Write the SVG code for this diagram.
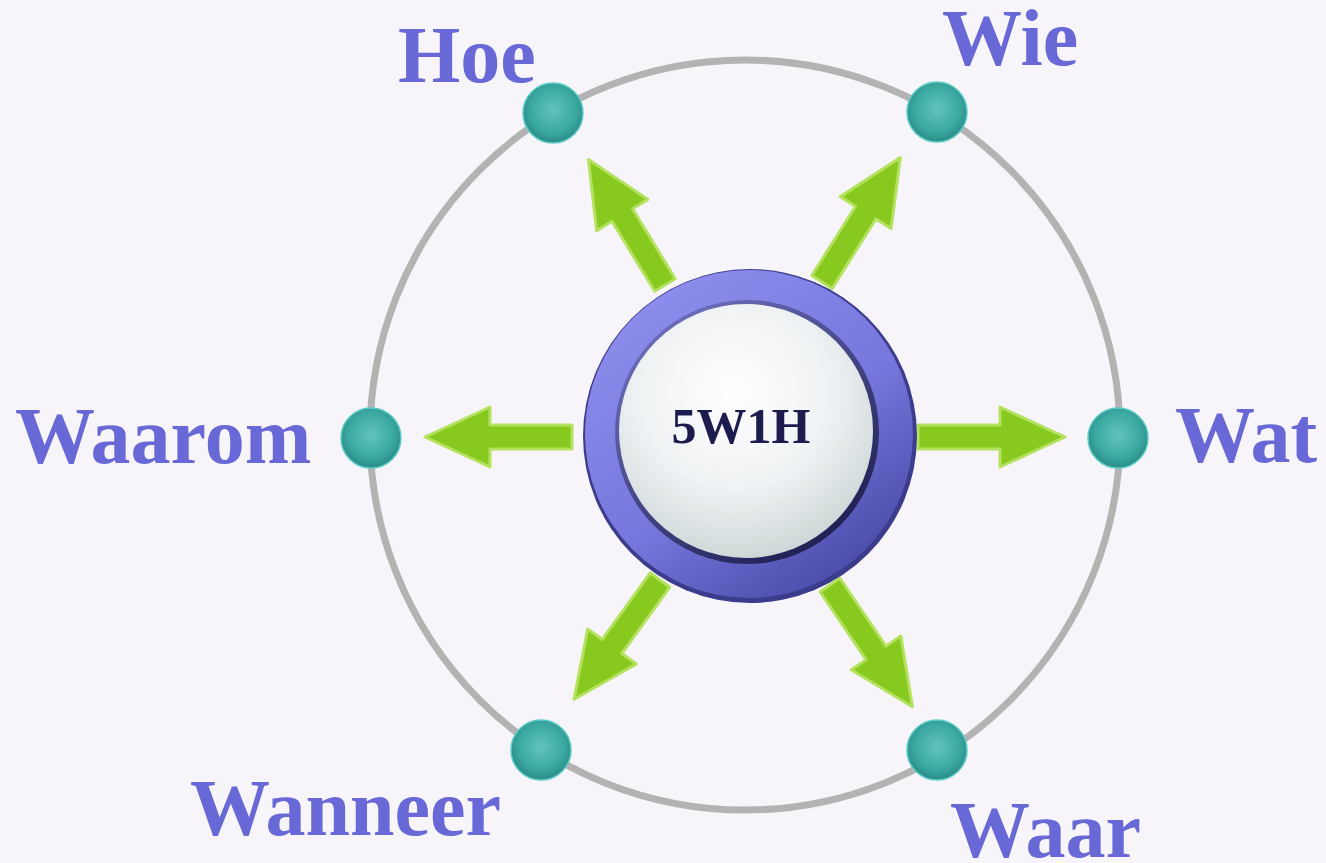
<svg xmlns="http://www.w3.org/2000/svg" width="1326" height="863" viewBox="0 0 1326 863">
  <defs>
    <style>
      .lbl { font-family: "Liberation Serif", "Times New Roman", serif; font-weight: bold; font-size: 80px; fill: #6868d6; }
      .ctr { font-family: "Liberation Serif", "Times New Roman", serif; font-weight: bold; font-size: 50px; fill: #1c1c4e; }
      .arrow { fill: #88c920; stroke: #b4e15e; stroke-width: 3; stroke-linejoin: round; }
      .dot { fill: url(#teal); stroke: #5ccdc6; stroke-width: 1.5; }
    </style>
    <radialGradient id="teal" cx="0.5" cy="0.45" r="0.55">
      <stop offset="0" stop-color="#62c4bc"/>
      <stop offset="0.7" stop-color="#3aa8a0"/>
      <stop offset="1" stop-color="#2a8a86"/>
    </radialGradient>
    <linearGradient id="ring" x1="0.2" y1="0.1" x2="0.8" y2="0.95">
      <stop offset="0" stop-color="#8c8cec"/>
      <stop offset="0.55" stop-color="#7676dc"/>
      <stop offset="1" stop-color="#4a4aa8"/>
    </linearGradient>
    <linearGradient id="rim" x1="0.2" y1="0.1" x2="0.8" y2="0.95">
      <stop offset="0" stop-color="#6a6ab8"/>
      <stop offset="1" stop-color="#1e1e50"/>
    </linearGradient>
    <radialGradient id="face" cx="0.45" cy="0.35" r="0.65">
      <stop offset="0" stop-color="#ffffff"/>
      <stop offset="0.6" stop-color="#eef1f3"/>
      <stop offset="1" stop-color="#cfd8d8"/>
    </radialGradient>
    <path id="arr" d="M0,-12 H82 V-30 L147,0 L82,30 V12 H0 Z"/>
  </defs>
  <rect width="1326" height="863" fill="#f8f5fa"/>

  <g id="orbit">
    <circle cx="745" cy="435" r="375" fill="none" stroke="#b3b3b3" stroke-width="7"/>
  </g>

  <g id="connectors">
    <use href="#arr" class="arrow" transform="translate(918,437)"/>
    <use href="#arr" class="arrow" transform="translate(572,437) rotate(180)"/>
    <use href="#arr" class="arrow" transform="translate(665,285) rotate(-121.4)"/>
    <use href="#arr" class="arrow" transform="translate(822,282) rotate(-57.8)"/>
    <use href="#arr" class="arrow" transform="translate(830,585) rotate(55.9)"/>
    <use href="#arr" class="arrow" transform="translate(660,580) rotate(125.8)"/>
  </g>

  <g id="center">
    <circle cx="750" cy="436" r="167" fill="#3c3c8c"/>
    <circle cx="749" cy="434" r="164" fill="url(#ring)"/>
    <circle cx="747" cy="432" r="132" fill="url(#rim)"/>
    <circle cx="746" cy="431" r="127" fill="url(#face)"/>
    <text class="ctr" x="741" y="443" text-anchor="middle">5W1H</text>
  </g>

  <g id="node-hoe">
    <circle class="dot" cx="553" cy="113" r="30"/>
    <text class="lbl" x="398" y="82">Hoe</text>
  </g>
  <g id="node-wie">
    <circle class="dot" cx="937" cy="112" r="30"/>
    <text class="lbl" x="942" y="65">Wie</text>
  </g>
  <g id="node-waarom">
    <circle class="dot" cx="371" cy="438" r="30"/>
    <text class="lbl" x="15" y="463">Waarom</text>
  </g>
  <g id="node-wat">
    <circle class="dot" cx="1118" cy="438" r="30"/>
    <text class="lbl" x="1175" y="462">Wat</text>
  </g>
  <g id="node-wanneer">
    <circle class="dot" cx="541" cy="750" r="30"/>
    <text class="lbl" x="190" y="835">Wanneer</text>
  </g>
  <g id="node-waar">
    <circle class="dot" cx="937" cy="750" r="30"/>
    <text class="lbl" x="950" y="857">Waar</text>
  </g>
</svg>
